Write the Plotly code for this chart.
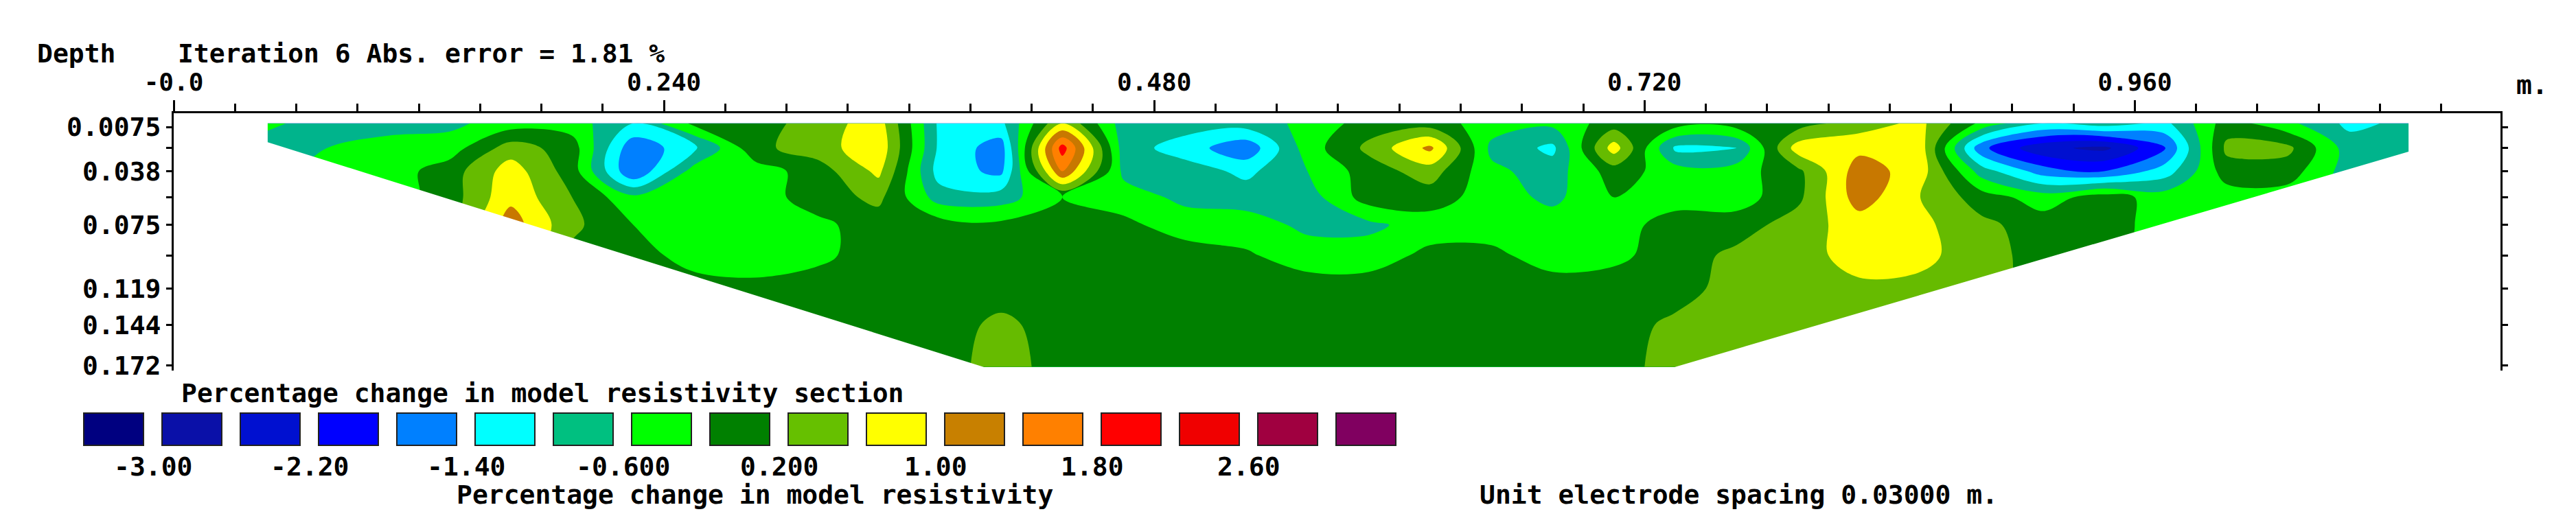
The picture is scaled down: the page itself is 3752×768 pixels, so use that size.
import plotly.graph_objects as go

# ---------------- data ----------------
x_nodes = [0.045 + 0.03 * i for i in range(36)]
depth_nodes = [0.005, 0.022, 0.038, 0.056, 0.075, 0.096, 0.119, 0.144, 0.173]

row0 = [-0.5, -0.8, -0.8, -0.7, -0.4, -0.4, -1.0, -0.1, 0, 0.4, 0.8, -1.1, -1.1, 0.6, -0.8, -0.8, -0.8, -0.5, 0, 0, -0.4, -0.5, 0, 0, 0, 0, 0.4, 0.7, -0.3, -1.0, -0.8, -1.1, 0, -0.5, -1.1, -0.9]
row1 = [-0.8, -0.6, -0.4, -0.4, 0.4, 0, -1.7, -1.1, 0.1, 0.4, 0.9, -1.1, -1.6, 2.0, -0.8, -1.2, -1.7, -0.4, 0.3, 1.1, -0.7, -1.1, 0.8, -1.1, -1.0, 0.8, 0.9, 0.8, -1.7, -2.5, -2.7, -1.8, 0.3, 0.3, -0.8, -0.9]
row2 = [-0.8, -0.4, -0.4, 0, 0.8, 0, -1.8, -0.4, -0.4, 0, 0.7, -1.2, -1.5, 1.4, -0.7, -0.8, -1.1, -0.6, 0, 0.4, -0.5, -0.8, 0, -0.4, -0.4, 0.1, 1.2, 0.8, -0.8, -1.6, -1.8, -1.2, 0, 0, -0.8, -0.9]
row3 = [-0.4, -0.4, -0.4, 0, 0.9, 0.2, -0.5, -0.4, -0.4, 0, 0.3, -0.8, -0.8, -0.2, -0.4, -0.7, -0.8, -0.8, 0, 0, -0.4, -0.7, -0.2, -0.4, -0.4, 0.1, 1.2, 0.6, 0, -0.4, 0, -0.4, -0.4, -0.4, -0.8, -0.9]
row4 = [0, 0, 0, 0, 1.2, 0.3, -0.2, -0.4, -0.4, -0.3, 0, 0, -0.1, 0, -0.1, -0.4, -0.4, -0.7, -0.7, -0.4, -0.4, -0.4, -0.4, 0, 0, 0.4, 0.8, 0.7, 0.3, 0, 0, -0.4, -0.4, -0.4, -0.8, -0.9]
row5 = [0, 0, 0, 0, 1.0, 0.1, 0, -0.4, -0.4, -0.3, 0, 0, 0, 0, 0, 0, -0.15, -0.4, -0.4, -0.1, -0.1, -0.4, -0.3, 0, 0.3, 0.4, 0.8, 0.7, 0.4, 0, 0, -0.4, -0.4, -0.4, -0.8, -0.9]
row6 = [0, 0, 0, 0, 0.5, 0, 0, 0, -0.1, 0, 0, 0, 0, 0, 0, 0, 0, 0, 0, 0, 0, 0, 0, 0, 0.4, 0.4, 0.5, 0.5, 0.4, 0, 0, 0, 0, 0, 0, 0]
row7 = [0, 0, 0, 0, 0, 0, 0, 0, 0, 0, 0, 0, 0.3, 0, 0, 0, 0, 0, 0, 0, 0, 0, 0, 0.3, 0.4, 0.4, 0.4, 0.4, 0.4, 0, 0, 0, 0, 0, 0, 0]
row8 = [0, 0, 0, 0, 0, 0, 0, 0, 0, 0, 0, 0, 0.4, 0, 0, 0, 0, 0, 0, 0, 0, 0, 0, 0.4, 0.4, 0.4, 0.4, 0.4, 0.4, 0, 0, 0, 0, 0, 0, 0]
values = [row0, row1, row2, row3, row4, row5, row6, row7, row8]

# section boundary (outside is blanked)
left_mask_x = [0.0, 0.046, 0.046, 0.402, 0.0]
left_mask_d = [0.0, 0.0, 0.018, 0.1755, 0.1755]
right_mask_x = [1.139, 1.094, 1.094, 0.729, 1.139]
right_mask_d = [0.0, 0.0, 0.0245, 0.1755, 0.1755]

x_tickvals = [0.0, 0.24, 0.48, 0.72, 0.96]
x_ticktext = ["-0.0", "0.240", "0.480", "0.720", "0.960"]
y_tickvals = [0.0075, 0.022, 0.038, 0.056, 0.075, 0.096, 0.119, 0.144, 0.172]
y_ticktext = ["0.0075", "", "0.038", "", "0.075", "", "0.119", "0.144", "0.172"]

legend_colors = ["#000080", "#0a10a8", "#0010d0", "#0000ff", "#0080ff", "#00ffff", "#00c080",
                 "#00ff00", "#008000", "#66c000", "#ffff00", "#c88000", "#ff8000", "#ff0000",
                 "#f00000", "#a00040", "#800060"]
legend_labels = ["-3.00", "-2.20", "-1.40", "-0.600", "0.200", "1.00", "1.80", "2.60"]
section_colors = ["#000080", "#0a10a8", "#0010d0", "#0000ff", "#0080ff", "#00ffff", "#00b48c",
                  "#00ff00", "#008000", "#66bb00", "#ffff00", "#c87800", "#ff8000", "#ff0000",
                  "#f00000", "#a00040", "#800060"]

# ---------------- figure ----------------
W, H = 3752, 768
L, R, T, B = 245, 3634, 157, 532
n = len(section_colors)
zmin, zmax = -3.4, 3.4
cs = []
for i, c in enumerate(section_colors):
    cs.append([i / n, c])
    cs.append([(i + 1) / n, c])

FONT = "DejaVu Sans Mono"
fig = go.Figure()
fig.add_trace(go.Contour(
    x=x_nodes, y=depth_nodes, z=values, zmin=zmin, zmax=zmax, colorscale=cs,
    autocontour=False, contours=dict(start=-3.0, end=3.0, size=0.4, coloring="fill", showlines=False),
    line=dict(width=0), showscale=False, hoverinfo="skip"))
for mx, md in [(left_mask_x, left_mask_d), (right_mask_x, right_mask_d)]:
    fig.add_trace(go.Scatter(x=mx, y=md, fill="toself", fillcolor="white", mode="lines",
                             line=dict(width=0, color="white"), hoverinfo="skip", showlegend=False))

def px(x):
    return (x - L) / (R - L)

def py(y):
    return (B - y) / (B - T)

ann = []
shapes = []
tf = dict(family=FONT, size=38, color="black", weight="bold")
ann.append(dict(text="Depth", x=px(44), y=py(70), xref="paper", yref="paper", xanchor="left", yanchor="middle", showarrow=False, font=tf))
ann.append(dict(text="Iteration 6 Abs. error = 1.81 %", x=px(249), y=py(70), xref="paper", yref="paper", xanchor="left", yanchor="middle", showarrow=False, font=tf))
ann.append(dict(text="m.", x=px(3680), y=py(116), xref="paper", yref="paper", xanchor="center", yanchor="middle", showarrow=False, font=tf))
ann.append(dict(text="Percentage change in model resistivity section", x=px(254), y=py(565), xref="paper", yref="paper", xanchor="left", yanchor="middle", showarrow=False, font=tf))
ann.append(dict(text="Percentage change in model resistivity", x=px(1091), y=py(713), xref="paper", yref="paper", xanchor="center", yanchor="middle", showarrow=False, font=tf))
ann.append(dict(text="Unit electrode spacing 0.03000 m.", x=px(2145), y=py(713), xref="paper", yref="paper", xanchor="left", yanchor="middle", showarrow=False, font=tf))
for i, c in enumerate(legend_colors):
    x0 = 114 + 114 * i
    shapes.append(dict(type="rect", xref="paper", yref="paper", x0=px(x0), x1=px(x0 + 87), y0=py(641), y1=py(594),
                       fillcolor=c, line=dict(color="#202020", width=2)))
for j, lab in enumerate(legend_labels):
    xc = 114 + 114 * (2 * j + 1) - 13
    ann.append(dict(text=lab, x=px(xc), y=py(672), xref="paper", yref="paper", xanchor="center", yanchor="middle", showarrow=False, font=tf))

fig.update_layout(
    width=W, height=H, margin=dict(l=L, r=W - R, t=T, b=H - B),
    paper_bgcolor="white", plot_bgcolor="white", showlegend=False,
    annotations=ann, shapes=shapes,
    xaxis=dict(range=[0.0, 1.139], side="top", showgrid=False, zeroline=False, showline=True, linecolor="black", linewidth=3,
               tickvals=x_tickvals, ticktext=x_ticktext, ticks="outside", ticklen=16, tickwidth=3, tickcolor="black",
               ticklabelstandoff=0,
               minor=dict(dtick=0.03, tick0=0, ticks="outside", ticklen=11, tickwidth=3, tickcolor="black"),
               tickfont=dict(family=FONT, size=36, color="black", weight="bold")),
    yaxis=dict(range=[0.1755, -0.002], showgrid=False, zeroline=False, showline=True, linecolor="black", linewidth=3,
               mirror="ticks", tickvals=y_tickvals, ticktext=y_ticktext, ticks="outside", ticklen=8, tickwidth=3,
               tickcolor="black", tickfont=tf),
)
fig.write_html("out.html")
